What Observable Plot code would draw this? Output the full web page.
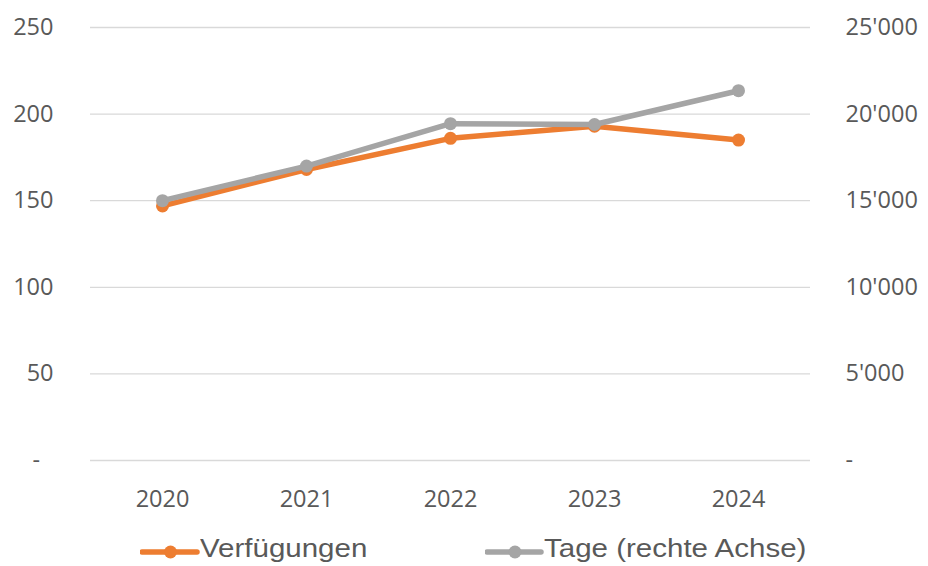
<!DOCTYPE html>
<html>
<head>
<meta charset="utf-8">
<script src="https://cdn.jsdelivr.net/npm/d3@7"></script>
<script src="https://cdn.jsdelivr.net/npm/@observablehq/plot@0.6"></script>
<style>
  html, body { margin: 0; padding: 0; background: #fff; }
  #wrap { position: relative; width: 928px; height: 566px; overflow: hidden; }
  #legend { position: absolute; left: 0; top: 525px; width: 928px; height: 41px; font-family: "Liberation Sans", Arial, sans-serif; font-size: 25px; color: #595959; }
  .item { position: absolute; top: 0; height: 41px; }
  .item svg { position: absolute; top: 0; left: 0; }
  .item span { position: absolute; top: 9px; white-space: nowrap; transform: scaleX(1.18); transform-origin: left top; line-height: 29px; }
</style>
</head>
<body>
<div id="wrap">
  <div id="chart"></div>
  <div id="legend"></div>
</div>
<script>
const years = ["2020", "2021", "2022", "2023", "2024"];
const verfuegungen = [147, 168, 186, 193, 185];
const tage = [15000, 17000, 19450, 19400, 21350];
const leftTicks = [0, 50, 100, 150, 200, 250];
const rightTicks = [0, 5000, 10000, 15000, 20000, 25000];
const seriesNames = ["Verfügungen", "Tage (rechte Achse)"];
const colors = ["#ED7D31", "#A5A5A5"];

const RATIO = 100; // right axis = left axis * 100

const dataV = years.map((y, i) => ({year: y, value: verfuegungen[i]}));
const dataT = years.map((y, i) => ({year: y, value: tage[i] / RATIO}));

const fmtRight = d => d === 0 ? "-" : d3.format(",")(d).replace(/,/g, "'");
const fmtLeft = d => d === 0 ? "-\u2007" : String(d);

const font = "'Open Sans', sans-serif";

const chart = Plot.plot({
  width: 928,
  height: 525,
  marginLeft: 90,
  marginRight: 118,
  marginTop: 27,
  marginBottom: 65,
  style: {fontFamily: font, fontSize: "23px", color: "#595959", background: "#fff"},
  x: {type: "point", domain: years, padding: 0.5, label: null},
  y: {domain: [0, 250], label: null},
  marks: [
    Plot.ruleY(leftTicks, {stroke: "#d9d9d9", strokeWidth: 1.3}),
    Plot.axisX({tickSize: 0, tickPadding: 30, label: null, fontSize: 23.5, fill: "#595959"}),
    Plot.axisY({ticks: leftTicks, tickSize: 0, tickPadding: 37, tickFormat: fmtLeft, label: null, anchor: "left", fontSize: 23.5, fill: "#595959"}),
    Plot.axisY(rightTicks.map(d => d / RATIO), {tickSize: 0, tickPadding: 35, tickFormat: d => fmtRight(d * RATIO), label: null, anchor: "right", fontSize: 23.5, fill: "#595959"}),
    Plot.line(dataV, {x: "year", y: "value", stroke: colors[0], strokeWidth: 5.5, strokeLinejoin: "round", strokeLinecap: "round"}),
    Plot.dot(dataV, {x: "year", y: "value", fill: colors[0], r: 6.5}),
    Plot.line(dataT, {x: "year", y: "value", stroke: colors[1], strokeWidth: 5.5, strokeLinejoin: "round", strokeLinecap: "round"}),
    Plot.dot(dataT, {x: "year", y: "value", fill: colors[1], r: 6.5})
  ]
});
document.getElementById("chart").appendChild(chart);

// Legend
const legend = document.getElementById("legend");
const legendPos = [{x: 140, w: 57}, {x: 485, w: 56}];
seriesNames.forEach((name, i) => {
  const item = document.createElement("div");
  item.className = "item";
  item.style.left = legendPos[i].x + "px";
  const w = legendPos[i].w;
  item.innerHTML = `<svg width="${w + 4}" height="41"><line x1="2" x2="${w}" y1="27" y2="27" stroke="${colors[i]}" stroke-width="5.5" stroke-linecap="round"/><circle cx="${w / 2 + 2}" cy="27" r="6.5" fill="${colors[i]}"/></svg><span style="left:${w + 3}px">${name}</span>`;
  legend.appendChild(item);
});
</script>
</body>
</html>
